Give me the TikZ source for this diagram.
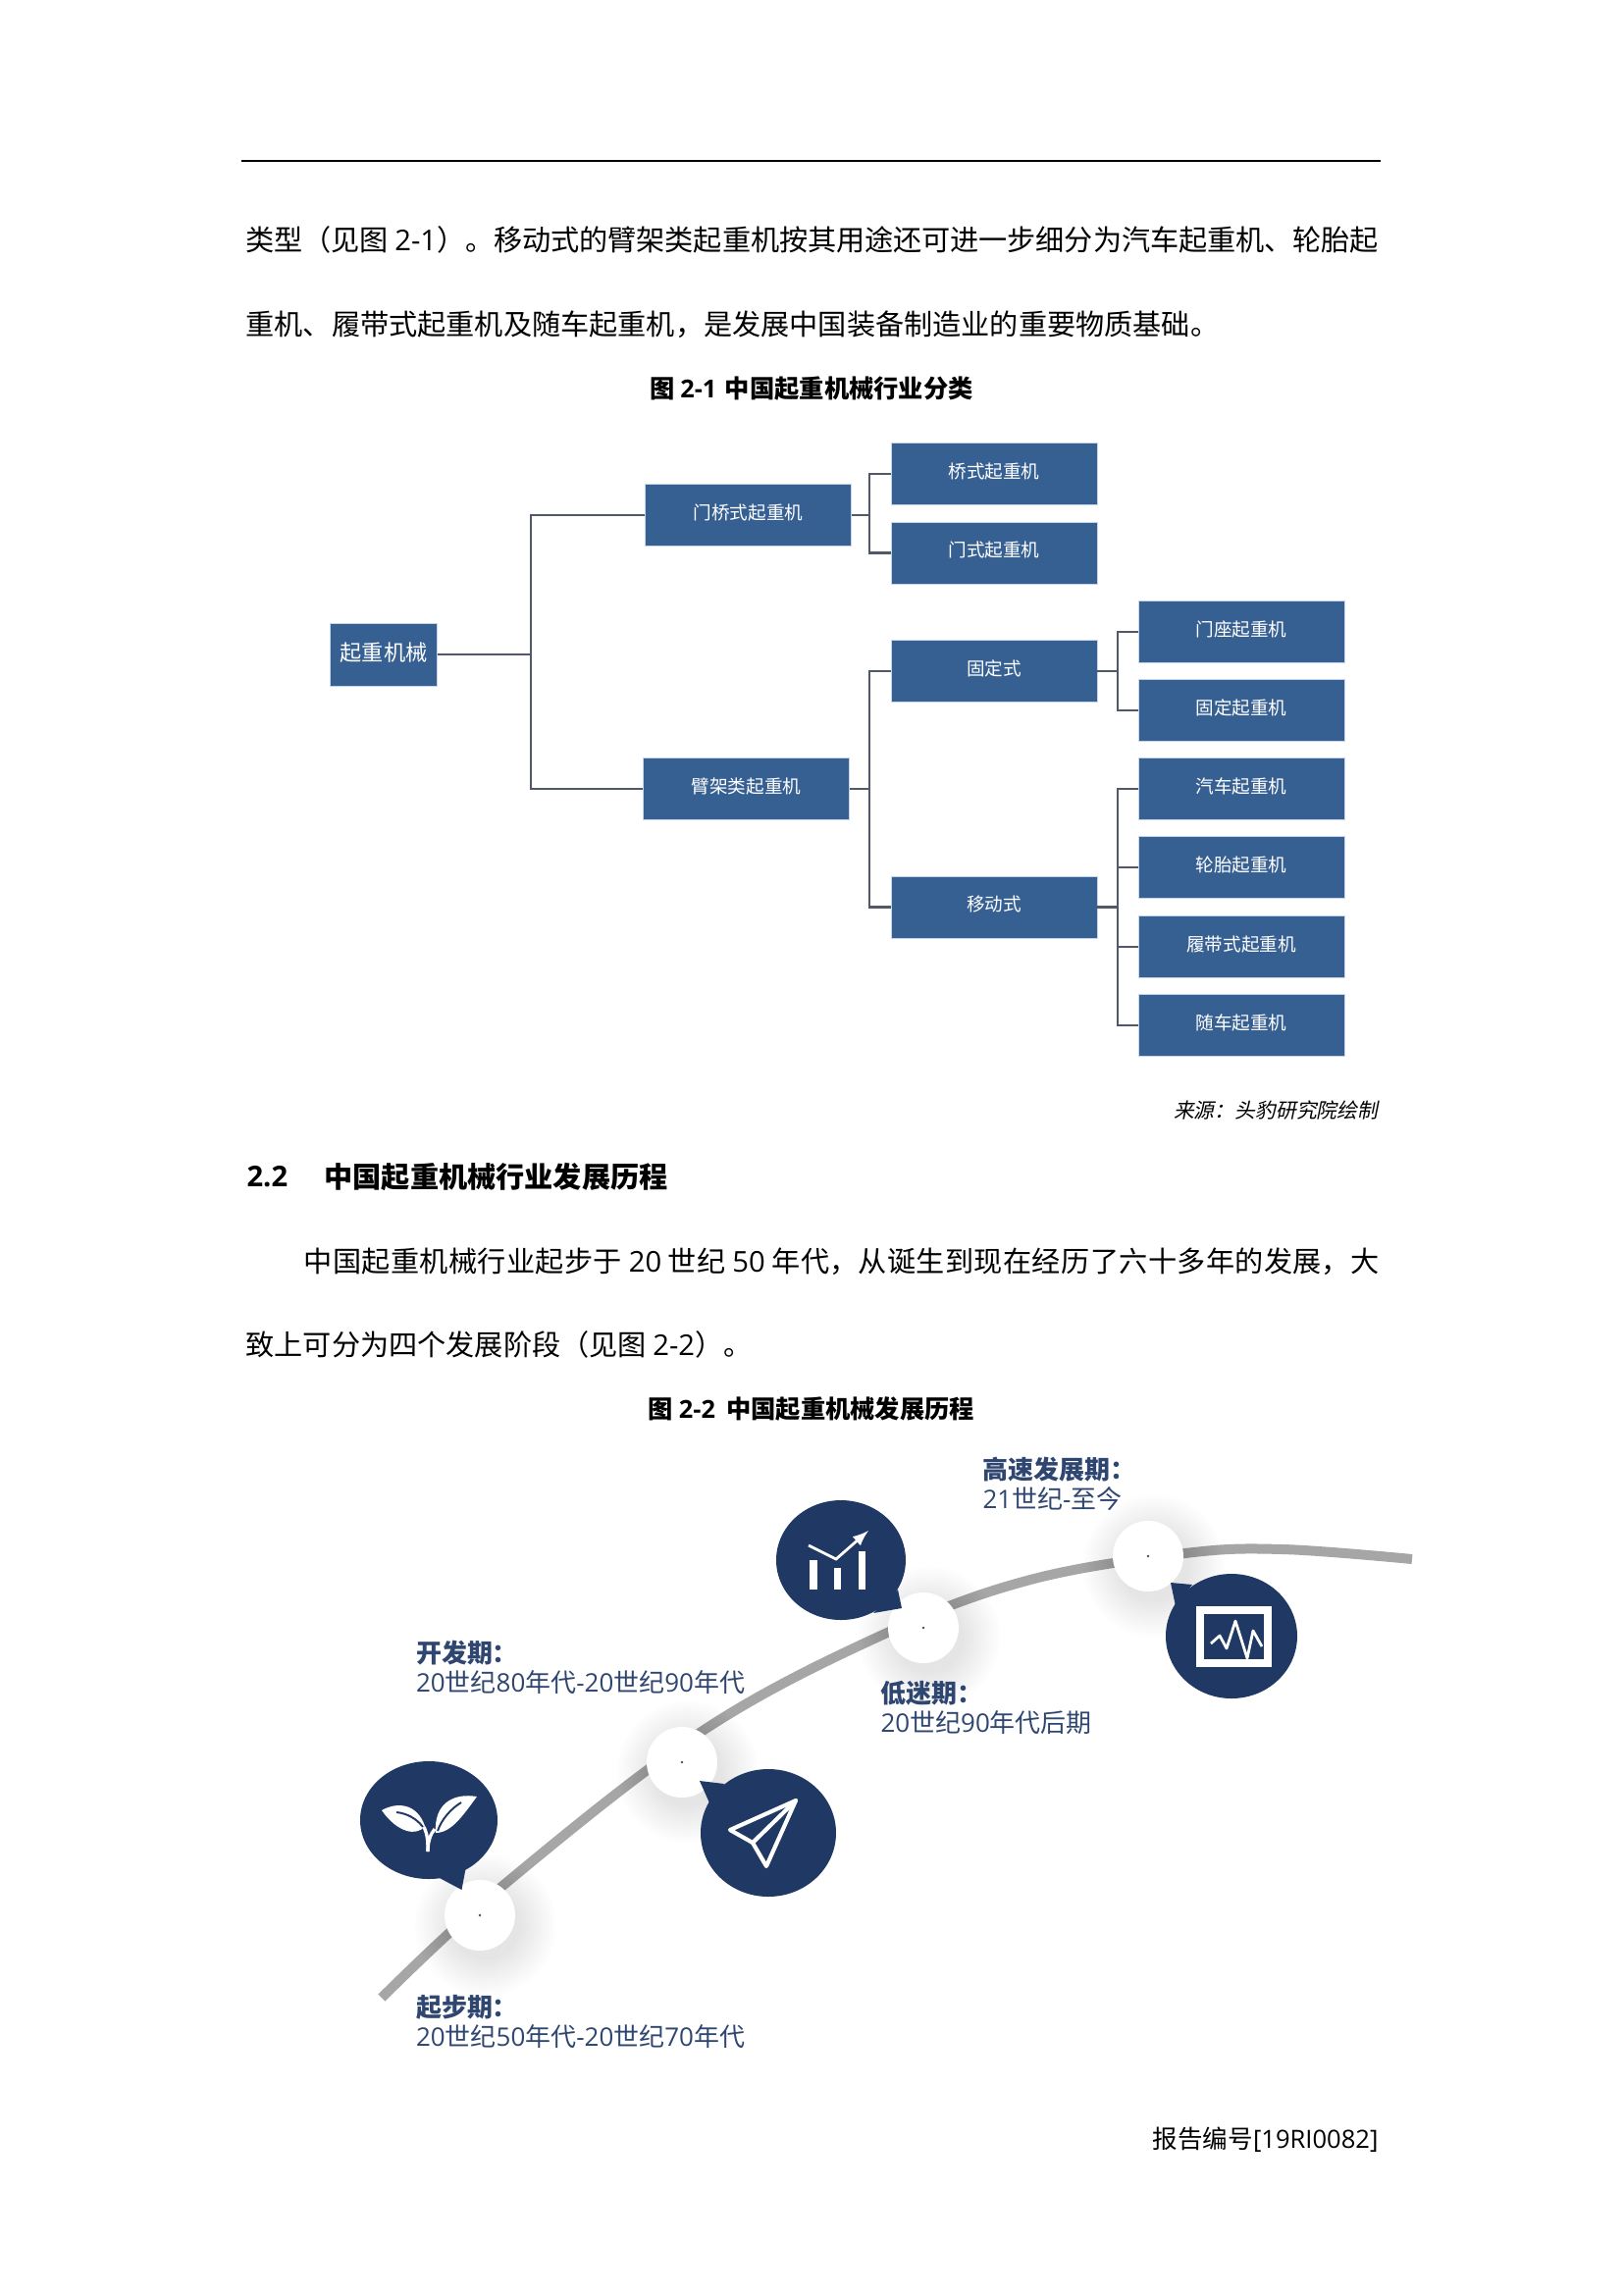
\documentclass[tikz,border=0pt]{standalone}
\usepackage{fontspec}
\setmainfont{Noto Sans CJK SC}
\newfontfamily\latfont{Open Sans}
\newfontfamily\slantfont[FakeSlant=0.2]{Noto Sans CJK SC}
\newcommand{\lat}[1]{{\latfont #1}}
\XeTeXlinebreaklocale "zh"
\XeTeXlinebreakskip=0pt plus 2pt minus 0.3pt
\definecolor{boxblue}{HTML}{376092}
\definecolor{boxedge}{HTML}{C6D5E8}
\definecolor{linkgray}{HTML}{50586A}
\definecolor{navy}{HTML}{1F3864}
\definecolor{curvegray}{HTML}{A6A6A6}
\definecolor{periodtext}{HTML}{2F4670}
\begin{document}
\begin{tikzpicture}[
    x=0.36pt,y=-0.36pt,
    >=latex,
    crane/.style={rectangle,draw=boxedge,fill=boxblue,text=white,inner sep=0pt,line width=0.3pt,minimum width=75.6pt,minimum height=22.7pt,text height=5.8pt,text depth=2.7pt,font=\fontsize{6.7}{8}\selectfont},
    link/.style={draw=linkgray,line width=0.75pt},
    body/.style={anchor=west,inner sep=0pt,font=\fontsize{10.5}{12}\selectfont},
    caption/.style={inner sep=0pt,font=\fontsize{9.1}{12}\selectfont\bfseries},
    period/.style={anchor=west,inner sep=0pt,align=left,text=periodtext,font=\fontsize{9.35}{10.8}\selectfont},
    stage/.style={circle,fill=white,inner sep=0pt,minimum size=25.9pt},
    bubble/.style={fill=navy},
    icon/.style={draw=white,line width=1.5pt,line join=round,line cap=round},
    curve/.style={draw=curvegray,line width=3.6pt}
]
    \useasboundingbox (0,0) rectangle (1654,2339);

    % page head and running text
    \draw[line width=0.6pt] (246,164) -- (1407,164);
    \node[body,text width=415.6pt,align=justify] (text_a) at (250,244) {\parfillskip=0pt 类型（见图 \lat{2-1}）。移动式的臂架类起重机按其用途还可进一步细分为汽车起重机、轮胎起\par};
    \node[body] (text_b) at (250,331) {重机、履带式起重机及随车起重机，是发展中国装备制造业的重要物质基础。};
    \node[caption] (caption_a) at (827,396) {图 \lat{2-1}\hspace{1pt} 中国起重机械行业分类};

    % classification tree
    \node[crane,minimum width=39.4pt,minimum height=23pt,text height=6.8pt,text depth=2pt,font=\fontsize{8}{10}\selectfont] (root) at (391,667) {起重机械};
    \node[crane] (men_qiao) at (762.5,525) {门桥式起重机};
    \node[crane] (bi_jia) at (760.5,804) {臂架类起重机};
    \node[crane] (qiao_shi) at (1013,483) {桥式起重机};
    \node[crane] (men_shi) at (1013,563.5) {门式起重机};
    \node[crane] (gu_ding) at (1013,684) {固定式};
    \node[crane] (yi_dong) at (1013,924.5) {移动式};
    \node[crane] (men_zuo) at (1265,644) {门座起重机};
    \node[crane] (gu_ding_crane) at (1265,724) {固定起重机};
    \node[crane] (qi_che) at (1265,804) {汽车起重机};
    \node[crane] (lun_tai) at (1265,884) {轮胎起重机};
    \node[crane] (lv_dai) at (1265,965) {履带式起重机};
    \node[crane] (sui_che) at (1265,1045) {随车起重机};

    \coordinate (fork_root) at (541,667);
    \coordinate (fork_men) at (886,525);
    \coordinate (fork_bi) at (886,804);
    \coordinate (fork_gu) at (1139,684);
    \coordinate (fork_yi) at (1139,924.5);

    \draw[link] (root.east) -- (fork_root) |- (men_qiao.west);
    \draw[link] (fork_root) |- (bi_jia.west);
    \draw[link] (men_qiao.east) -- (fork_men) |- (qiao_shi.west);
    \draw[link] (fork_men) |- (men_shi.west);
    \draw[link] (bi_jia.east) -- (fork_bi) |- (gu_ding.west);
    \draw[link] (fork_bi) |- (yi_dong.west);
    \draw[link] (gu_ding.east) -- (fork_gu) |- (men_zuo.west);
    \draw[link] (fork_gu) |- (gu_ding_crane.west);
    \draw[link] (yi_dong.east) -- (fork_yi) |- (qi_che.west);
    \draw[link] (fork_yi) |- (lun_tai.west);
    \draw[link] (fork_yi) |- (lv_dai.west);
    \draw[link] (fork_yi) |- (sui_che.west);

    \node[anchor=east,inner sep=0pt,font=\fontsize{7.5}{9}\selectfont\slantfont] (source) at (1405,1132) {来源：头豹研究院绘制};

    % section text
    \node[body,font=\fontsize{10.5}{12}\selectfont\bfseries] (section_no) at (251,1199) {\lat{2.2}};
    \node[body,font=\fontsize{10.5}{12}\selectfont\bfseries] (section_title) at (330,1199) {中国起重机械行业发展历程};
    \node[body,text width=394.6pt,align=justify] (text_c) at (309,1286) {\parfillskip=0pt 中国起重机械行业起步于 \lat{20} 世纪 \lat{50} 年代，从诞生到现在经历了六十多年的发展，大\par};
    \node[body] (text_d) at (250,1370) {致上可分为四个发展阶段（见图 \lat{2-2}）。};
    \node[caption] (caption_b) at (827,1436) {图 \lat{2-2}\hspace{2pt} 中国起重机械发展历程};

    % timeline curve and its stops
    \draw[curve] plot[smooth,tension=0.6] coordinates {(389,2036) (511,1923) (716,1764) (904,1664) (1050,1610) (1208,1583) (1307,1579) (1439,1589)};

    \foreach \cx/\cy in {489/1952,695/1796,941/1659,1170/1586}
        \foreach \rad in {36,39,...,72}
            \fill[black,opacity=0.009] (\cx+6,\cy+10) circle (\rad);

    \node[stage] (stage_a) at (489,1952) {};
    \node[stage] (stage_b) at (695,1796) {};
    \node[stage] (stage_c) at (941,1659) {};
    \node[stage] (stage_d) at (1170,1586) {};
    \foreach \stop in {stage_a,stage_b,stage_c,stage_d}
        \fill[black!70] (\stop) circle (1.3);

    % leaf bubble
    \fill[bubble] (437,1855) ellipse (70 and 60);
    \fill[bubble] (446,1913) -- (470.5,1926) -- (475,1902) -- cycle;
    \fill[white] (389,1845) .. controls (405,1836) and (425,1838) .. (433,1861) .. controls (425,1872) and (405,1868) .. cycle;
    \fill[white] (486,1831) .. controls (462,1827) and (442,1838) .. (444,1868) .. controls (460,1868) and (472,1850) .. cycle;
    \draw[navy,line width=0.7pt] (404,1847) .. controls (415,1848) and (425,1854) .. (431,1862);
    \draw[navy,line width=0.7pt] (470,1837) .. controls (460,1843) and (450,1854) .. (446,1866);
    \draw[white,line width=1.2pt] (436,1887) .. controls (436,1878) and (436,1870) .. (432,1862);
    \draw[white,line width=1.2pt] (436,1887) .. controls (436,1878) and (438,1870) .. (443,1864);

    % paper plane bubble
    \fill[bubble] (783,1868) ellipse (69 and 65);
    \fill[bubble] (738,1818) -- (713,1815) -- (725,1842) -- cycle;
    \draw[icon] (811,1835) -- (744,1865) -- (767,1878) -- (781,1902) -- cycle;
    \draw[icon] (767,1878) -- (811,1835);

    % chart bubble
    \fill[bubble] (857,1590) ellipse (66 and 61);
    \fill[bubble] (915,1620) -- (919,1639) -- (890,1644) -- cycle;
    \fill[white] (825,1590) rectangle (833,1620);
    \fill[white] (850,1598) rectangle (857,1620);
    \fill[white] (875,1581) rectangle (882,1620);
    \draw[white,line width=1pt,->] (824,1575) -- (852,1589) -- (885,1560);

    % monitor bubble
    \fill[bubble] (1255,1667.5) ellipse (67 and 63.5);
    \fill[bubble] (1215,1615) -- (1193,1613) -- (1198,1637) -- cycle;
    \draw[white,line width=2.6pt] (1223,1641) rectangle (1292,1695);
    \draw[white,line width=1pt,line join=round] (1234,1675) -- (1243,1667) -- (1250,1680) -- (1259,1652) -- (1271,1690) -- (1277,1662) -- (1286,1678);

    % period labels
    \node[period] (period_a) at (423.5,2060) {\textbf{起步期：}\\\lat{20}世纪\lat{50}年代\lat{-20}世纪\lat{70}年代};
    \node[period] (period_b) at (423.5,1699) {\textbf{开发期：}\\\lat{20}世纪\lat{80}年代\lat{-20}世纪\lat{90}年代};
    \node[period] (period_c) at (897,1740) {\textbf{低迷期：}\\\lat{20}世纪\lat{90}年代后期};
    \node[period] (period_d) at (1001,1512) {\textbf{高速发展期：}\\\lat{21}世纪\lat{-}至今};

    \node[anchor=east,inner sep=0pt,font=\fontsize{9.2}{11}\selectfont] (report_no) at (1405,2181) {报告编号\lat{[19RI0082]}};
\end{tikzpicture}
\end{document}
